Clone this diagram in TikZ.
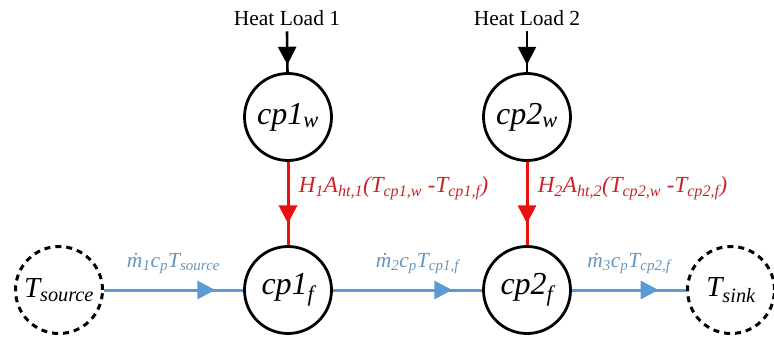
\documentclass[tikz,border=0pt]{standalone}
\usepackage{fontspec}
\setmainfont{Liberation Serif}
\usetikzlibrary{arrows.meta,decorations.markings}

\definecolor{flowblue}{RGB}{91,155,213}
\definecolor{flowtext}{RGB}{100,150,192}
\definecolor{heatred}{RGB}{232,16,16}
\definecolor{heattext}{RGB}{200,36,40}

\tikzset{
  cv/.style={circle, draw, line width=2.8pt, minimum size=87pt, inner sep=0pt,
    font=\fontsize{32}{38}\selectfont\itshape},
  bnd/.style={cv, dash pattern=on 6pt off 5pt, line width=3pt,
    font=\fontsize{29}{34}\selectfont\itshape},
  midarrow/.style={postaction={decorate}, decoration={markings,
    mark=at position #1 with {\arrow{Triangle[length=18pt,width=18pt]}}}},
  flow/.style={flowblue, line width=3pt},
  heat/.style={heatred, line width=3pt},
  load/.style={black, line width=2.6pt},
}

\begin{document}
\begin{tikzpicture}[x=1pt,y=-1pt]
    \useasboundingbox (0,0) rectangle (774,337);
    % control volumes
    \node[cv] (w1) at (288,117) {cp1\textsubscript{w}};
    \node[cv] (w2) at (527,117) {cp2\textsubscript{w}};
    \node[cv] (f1) at (288,290) {cp1\textsubscript{f}};
    \node[cv] (f2) at (527,290) {cp2\textsubscript{f}};
    \node[bnd] (src) at (59,290) {T\textsubscript{source}};
    \node[bnd] (snk) at (731,290) {T\textsubscript{sink}};
    % heat loads
    \node[anchor=base, inner sep=5pt, font=\fontsize{21.5}{26}\selectfont] (hl1) at (287,26) {Heat Load 1};
    \node[anchor=base, inner sep=5pt, font=\fontsize{21.5}{26}\selectfont] (hl2) at (527,26) {Heat Load 2};
    \draw[load, midarrow=0.82] (hl1.south) -- (w1);
    \draw[load, midarrow=0.82] (hl2.south) -- (w2);
    % wall to fluid
    \draw[heat, midarrow=0.74] (w1) -- (f1)
        node[pos=0.32, right, xshift=6pt, text=heattext, font=\fontsize{23}{26}\selectfont\itshape]
        {H\textsubscript{1}A\textsubscript{ht,1}(T\textsubscript{cp1,w} -T\textsubscript{cp1,f})};
    \draw[heat, midarrow=0.74] (w2) -- (f2)
        node[pos=0.32, right, xshift=6pt, text=heattext, font=\fontsize{23}{26}\selectfont\itshape]
        {H\textsubscript{2}A\textsubscript{ht,2}(T\textsubscript{cp2,w} -T\textsubscript{cp2,f})};
    % fluid flow
    \draw[flow, midarrow=0.8] (src) -- (f1)
        node[midway, above, yshift=11pt, text=flowtext, font=\fontsize{21.5}{24}\selectfont\itshape]
        {\.m\textsubscript{1}c\textsubscript{p}T\textsubscript{source}};
    \draw[flow, midarrow=0.8] (f1) -- (f2)
        node[midway, above, xshift=10pt, yshift=11pt, text=flowtext, font=\fontsize{21.5}{24}\selectfont\itshape]
        {\.m\textsubscript{2}c\textsubscript{p}T\textsubscript{cp1,f}};
    \draw[flow, midarrow=0.76] (f2) -- (snk)
        node[midway, above, yshift=11pt, text=flowtext, font=\fontsize{21.5}{24}\selectfont\itshape]
        {\.m\textsubscript{3}c\textsubscript{p}T\textsubscript{cp2,f}};
\end{tikzpicture}
\end{document}
